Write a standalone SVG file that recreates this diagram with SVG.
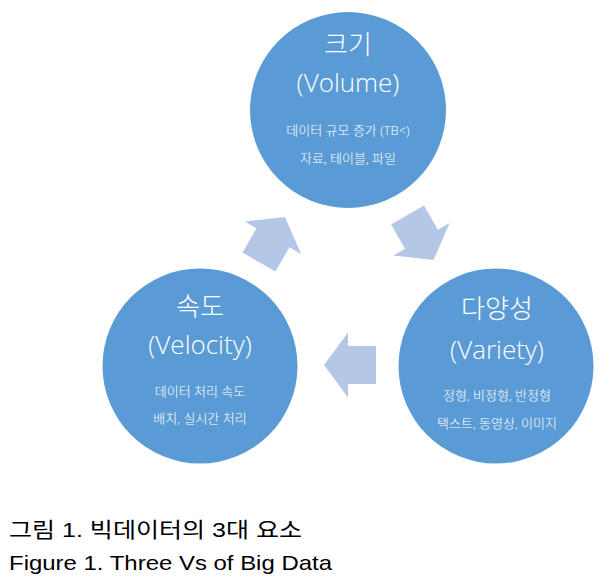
<svg xmlns="http://www.w3.org/2000/svg" width="613" height="581" viewBox="0 0 613 581">
<style>
.c{fill:#5b9bd5}
.ar{fill:#b4c7e7}
.t{fill:#fff;font-family:"Open Sans","Noto Sans CJK KR",sans-serif;font-weight:300;text-anchor:middle}
.big{font-size:26px}
.sm{font-size:13px}
.cap{fill:#000;font-family:"Liberation Sans","Noto Sans CJK KR",sans-serif;font-size:21px}
</style>
<defs>
<polygon id="arrow" points="0,0 24,-32.5 24,-19 52,-19 52,19 24,19 24,32.5"/>
</defs>
<g id="connectors">
<use href="#arrow" class="ar" transform="translate(285,217) rotate(120)"/>
<use href="#arrow" class="ar" transform="translate(433.5,260) rotate(-120)"/>
<use href="#arrow" class="ar" transform="translate(324,365)"/>
</g>
<g id="volume">
<circle class="c" cx="348" cy="110" r="98"/>
<text class="t big" x="348" y="54">크기</text>
<text class="t big" x="348" y="92">(Volume)</text>
<text class="t sm" x="348" y="135">데이터 규모 증가 (TB&lt;)</text>
<text class="t sm" x="348" y="163">자료, 테이블, 파일</text>
</g>
<g id="velocity">
<circle class="c" cx="200" cy="366" r="97.5"/>
<text class="t big" x="200" y="316">속도</text>
<text class="t big" x="200" y="354">(Velocity)</text>
<text class="t sm" x="200" y="396">데이터 처리 속도</text>
<text class="t sm" x="200" y="423">배치, 실시간 처리</text>
</g>
<g id="variety">
<circle class="c" cx="496" cy="366" r="97.5"/>
<text class="t big" x="497" y="318">다양성</text>
<text class="t big" x="497" y="359">(Variety)</text>
<text class="t sm" x="497" y="400">정형, 비정형, 반정형</text>
<text class="t sm" x="497" y="428">텍스트, 동영상, 이미지</text>
</g>
<g id="caption">
<text class="cap" x="9" y="537" textLength="293" lengthAdjust="spacingAndGlyphs">그림 1. 빅데이터의 3대 요소</text>
<text class="cap" x="9" y="570" textLength="323" lengthAdjust="spacingAndGlyphs">Figure 1. Three Vs of Big Data</text>
</g>
</svg>
